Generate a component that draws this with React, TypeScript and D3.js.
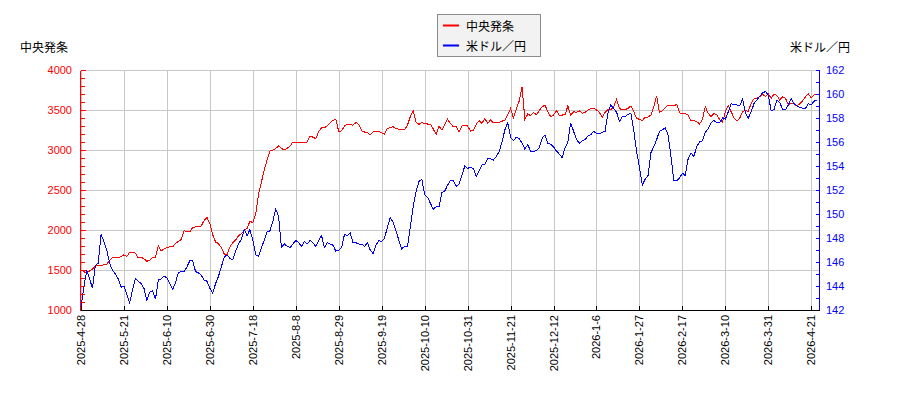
import React from "react";
import * as d3 from "d3";

const dateLabels = [
  "2025-4-28", "2025-5-21", "2025-6-10", "2025-6-30", "2025-7-18", "2025-8-8",
  "2025-8-29", "2025-9-19", "2025-10-10", "2025-10-31", "2025-11-21", "2025-12-12",
  "2026-1-6", "2026-1-27", "2026-2-17", "2026-3-10", "2026-3-31", "2026-4-21",
];
const labelStep = 15;

const leftTicks = [1000, 1500, 2000, 2500, 3000, 3500, 4000];
const rightTicks = [142, 144, 146, 148, 150, 152, 154, 156, 158, 160, 162];

const stockName = "中央発条";
const fxName = "米ドル／円";

const stock = [
  1500, 1480, 1460, 1490, 1510, 1550, 1560, 1555, 1565, 1575,
  1620, 1660, 1655, 1650, 1670, 1690, 1670, 1720, 1720, 1710,
  1650, 1660, 1640, 1610, 1620, 1660, 1660, 1800, 1740, 1760,
  1780, 1790, 1790, 1830, 1860, 1880, 1990, 1980, 1975, 2030,
  2040, 2040, 2050, 2120, 2155, 2080, 1940, 1850, 1830, 1780,
  1700, 1690, 1790, 1840, 1875, 1930, 1950, 2000, 2020, 2110,
  2090, 2200, 2450, 2600, 2750, 2880, 2990, 3000, 3020, 3050,
  3020, 3000, 3020, 3050, 3100, 3100, 3090, 3095, 3090, 3100,
  3175, 3160, 3140, 3230, 3280, 3280, 3300, 3340, 3370, 3380,
  3230, 3240, 3300, 3325, 3320, 3310, 3345, 3320, 3240, 3225,
  3220, 3190, 3230, 3235, 3230, 3215, 3200, 3270, 3280, 3290,
  3270, 3260, 3255, 3250, 3310, 3420, 3490, 3350, 3320, 3345,
  3330, 3325, 3325, 3262, 3196, 3300, 3250, 3320, 3383, 3333,
  3292, 3290, 3229, 3300, 3312, 3300, 3237, 3240, 3321, 3367,
  3333, 3396, 3333, 3375, 3342, 3345, 3345, 3360, 3375, 3437,
  3521, 3400, 3508, 3612, 3792, 3380, 3450, 3430, 3470, 3440,
  3490, 3540, 3560, 3480, 3417, 3437, 3492, 3437, 3437, 3440,
  3550, 3437, 3479, 3470, 3492, 3458, 3470, 3500, 3515, 3520,
  3500, 3471, 3408, 3471, 3508, 3500, 3542, 3633, 3521, 3500,
  3505, 3520, 3550, 3479, 3396, 3383, 3367, 3408, 3410, 3437,
  3542, 3675, 3470, 3492, 3530, 3562, 3555, 3550, 3571, 3467,
  3450, 3455, 3437, 3367, 3370, 3354, 3325, 3383, 3542, 3458,
  3417, 3458, 3440, 3383, 3346, 3479, 3554, 3479, 3404, 3362,
  3396, 3479, 3492, 3485, 3583, 3640, 3650, 3667, 3700, 3667,
  3700, 3646, 3700, 3680, 3625, 3667, 3646, 3562, 3583, 3575,
  3550, 3580, 3617, 3667, 3700, 3654, 3687, 3700,
];

const fx = [
  142.3, 143.9, 145.3, 144.6, 143.8, 145.7, 145.9, 148.3, 147.7, 147.0,
  145.9, 145.3, 145.0, 144.6, 143.9, 144.0, 143.3, 142.6, 143.7, 144.6,
  144.4, 144.2, 143.8, 142.8, 143.5, 143.6, 142.9, 144.5, 144.6, 144.8,
  144.7, 144.2, 143.7, 144.3, 145.1, 145.2, 145.2, 145.6, 146.1, 146.1,
  145.2, 145.1, 144.9, 144.5, 144.4, 143.8, 143.4, 144.2, 144.8, 145.6,
  146.4, 146.6, 146.3, 146.2, 146.9, 147.5, 147.9, 148.7, 148.2, 148.7,
  147.8, 146.6, 146.5, 147.2, 147.8, 148.5, 148.6, 149.4, 150.4, 149.8,
  147.2, 147.5, 147.3, 147.2, 147.5, 147.8, 147.6, 147.3, 147.7, 147.5,
  147.8, 147.6, 147.3, 147.8, 148.2, 147.2, 147.6, 147.5, 147.4, 146.9,
  147.0, 147.2, 148.3, 148.2, 148.4, 147.6, 147.6, 147.5, 147.5, 147.3,
  147.6, 147.0, 146.7, 147.4, 147.8, 147.7, 148.0, 148.9, 149.7, 149.3,
  148.6, 147.8, 147.1, 147.3, 147.3, 148.9, 150.6, 151.9, 152.7, 152.9,
  151.6, 151.4, 150.9, 150.4, 150.6, 150.6, 151.8, 151.9, 152.4, 152.8,
  152.8, 152.3, 152.5, 153.2, 154.0, 153.8, 153.9, 153.8, 153.1, 153.6,
  154.1, 154.1, 154.6, 154.6, 154.5, 154.8, 155.2, 156.0, 157.0, 157.6,
  156.4, 156.1, 156.4, 156.3, 155.9, 155.4, 155.8, 155.2, 155.2, 155.3,
  155.5, 156.3, 156.6, 155.9, 155.8, 155.6, 155.25, 155.0, 154.7, 155.5,
  156.0, 157.6, 156.9, 156.2, 155.9, 156.1, 156.2, 156.5, 156.6, 156.9,
  156.7, 156.7, 156.8, 156.9, 158.4, 159.1, 158.8, 158.5, 157.7, 158.1,
  158.1, 158.3, 158.4, 157.0, 155.2, 153.9, 152.4, 152.9, 153.2, 155.1,
  155.6, 156.2, 156.9, 157.0, 157.2, 156.6, 154.8, 152.8, 152.75, 153.0,
  153.4, 153.2, 154.6, 155.1, 154.8, 155.6, 156.0, 156.1, 156.8, 157.1,
  157.6, 157.8, 157.6, 157.6, 158.0, 157.9, 158.5, 159.2, 159.1, 159.1,
  159.0, 159.6, 158.4, 158.0, 158.5, 159.2, 159.5, 159.8, 160.1, 160.2,
  159.9, 158.6, 158.7, 159.5, 159.3, 158.7, 158.7, 159.1, 159.6, 159.2,
  159.0, 158.9, 158.8, 158.8, 159.2, 159.1, 159.4, 159.5,
];

const FONT = "'Liberation Sans', Arial, sans-serif";
const JP = "'Noto Sans CJK JP', sans-serif";

export default function App() {
  const W = 900;
  const H = 400;
  const plotL = 80.5;
  const plotR = 819.5;
  const plotT = 70.5;
  const plotB = 310.5;
  const n = stock.length;

  const x = d3.scaleLinear().domain([0, n - 1]).range([81, 817]);
  const yL = d3.scaleLinear().domain([1000, 4000]).range([310, 70]);
  const yR = d3.scaleLinear().domain([142, 162]).range([310, 70]);

  const stockLine = d3
    .line<number>()
    .x((_, i) => x(i))
    .y((d) => yL(d))(stock) as string;
  const fxLine = d3
    .line<number>()
    .x((_, i) => x(i))
    .y((d) => yR(d))(fx) as string;

  const xTickIdx = dateLabels.map((_, k) => k * labelStep);
  const leftMinor = d3.range(1000, 4001, 100);
  const rightMinor = d3.range(142, 162.01, 1);
  const grid = "#c8c8c8";
  const px = (v: number) => Math.round(v) + 0.5;

  return (
    <svg
      width={W}
      height={H}
      style={{ position: "fixed", left: 0, top: 0, background: "#fff" }}
    >
      {/* grid */}
      <g shapeRendering="crispEdges" stroke={grid} strokeWidth={1}>
        {xTickIdx.map((i) => (
          <line key={"gx" + i} x1={px(x(i))} x2={px(x(i))} y1={plotT} y2={plotB} />
        ))}
        {leftTicks.map((v) => (
          <line key={"gy" + v} x1={plotL} x2={plotR} y1={px(yL(v))} y2={px(yL(v))} />
        ))}
      </g>

      {/* data */}
      <path d={stockLine} fill="none" stroke="#ff0000" strokeWidth={1} shapeRendering="crispEdges" />
      <path d={fxLine} fill="none" stroke="#0000ff" strokeWidth={1} shapeRendering="crispEdges" />

      {/* left axis */}
      <g shapeRendering="crispEdges" stroke="#ff0000">
        <line x1={plotL} x2={plotL} y1={plotT} y2={plotB} />
        {leftMinor.map((v) => (
          <line key={"lt" + v} x1={plotL} x2={plotL + (v % 500 === 0 ? 5 : 4)} y1={px(yL(v))} y2={px(yL(v))} />
        ))}
      </g>
      {leftTicks.map((v) => (
        <text
          key={"ll" + v}
          x={72}
          y={yL(v)}
          fill="#ff0000"
          fontSize={11}
          fontFamily={FONT}
          textAnchor="end"
          dominantBaseline="central"
        >
          {v}
        </text>
      ))}

      {/* right axis */}
      <g shapeRendering="crispEdges" stroke="#0000ff">
        <line x1={plotR} x2={plotR} y1={plotT} y2={plotB} />
        {rightMinor.map((v) => (
          <line key={"rt" + v} x1={plotR - 4} x2={plotR} y1={px(yR(v))} y2={px(yR(v))} />
        ))}
      </g>
      {rightTicks.map((v) => (
        <text
          key={"rl" + v}
          x={826}
          y={yR(v)}
          fill="#0000ff"
          fontSize={11}
          fontFamily={FONT}
          textAnchor="start"
          dominantBaseline="central"
        >
          {v}
        </text>
      ))}

      {/* bottom axis */}
      <g shapeRendering="crispEdges" stroke="#000">
        <line x1={plotL} x2={plotR} y1={plotB} y2={plotB} />
        {xTickIdx.map((i) => (
          <line key={"bt" + i} x1={px(x(i))} x2={px(x(i))} y1={plotB - 5} y2={plotB} />
        ))}
      </g>
      {xTickIdx.map((i, k) => (
        <text
          key={"bl" + i}
          transform={`translate(${x(i)},315) rotate(-90)`}
          fill="#000"
          fontSize={11}
          fontFamily={FONT}
          textAnchor="end"
          dominantBaseline="central"
        >
          {dateLabels[k]}
        </text>
      ))}

      {/* axis titles */}
      <text x={20} y={46} fontSize={12} fontFamily={JP} fill="#000" dominantBaseline="central">
        {stockName}
      </text>
      <text x={850} y={46} fontSize={12} fontFamily={JP} fill="#000" textAnchor="end" dominantBaseline="central">
        {fxName}
      </text>

      {/* legend */}
      <g>
        <rect x={437.5} y={14.5} width={103} height={42} fill="#f2f2f2" stroke="#8c8c8c" shapeRendering="crispEdges" />
        <line x1={443} x2={459} y1={25.5} y2={25.5} stroke="#ff0000" strokeWidth={2} />
        <line x1={443} x2={459} y1={45.5} y2={45.5} stroke="#0000ff" strokeWidth={2} />
        <text x={466} y={25.5} fontSize={12} fontFamily={JP} dominantBaseline="central">
          {stockName}
        </text>
        <text x={466} y={45.5} fontSize={12} fontFamily={JP} dominantBaseline="central">
          {fxName}
        </text>
      </g>
    </svg>
  );
}
